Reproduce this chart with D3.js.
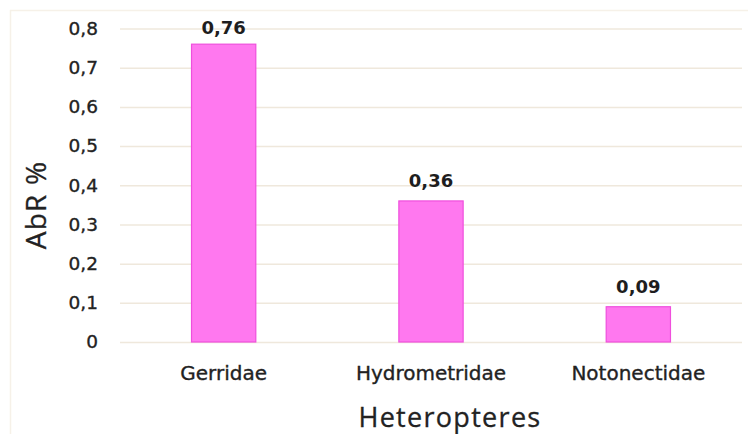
<!DOCTYPE html>
<html>
<head>
<meta charset="utf-8">
<script src="https://cdn.jsdelivr.net/npm/d3@7"></script>
<style>
  body { margin: 0; background: #fff; }
  svg { display: block; }
</style>
</head>
<body>
<div id="dataviz"></div>
<script>
// chart data
var families = ["Gerridae", "Hydrometridae", "Notonectidae"];
var abr = [0.76, 0.36, 0.09];
var yTicks = [0, 0.1, 0.2, 0.3, 0.4, 0.5, 0.6, 0.7, 0.8];

var widthFull = 748;
var heightFull = 434;
var margin = { top: 28.5, right: 6, bottom: 92, left: 120 };
var width = widthFull - margin.left - margin.right;
var height = heightFull - margin.top - margin.bottom;

var root = d3.select("#dataviz").append("svg")
    .attr("width", widthFull)
    .attr("height", heightFull);

// faint chart border (top and left only visible)
root.append("line")
    .attr("x1", 10).attr("y1", 10.5).attr("x2", widthFull).attr("y2", 10.5)
    .attr("stroke", "#f6f1e8").attr("stroke-width", 1.5);
root.append("line")
    .attr("x1", 10.5).attr("y1", 10).attr("x2", 10.5).attr("y2", heightFull)
    .attr("stroke", "#f6f1e8").attr("stroke-width", 1.5);

var svg = root.append("g")
    .attr("transform", "translate(" + margin.left + "," + margin.top + ")");

var x = d3.scaleBand().domain(families).range([0, width])
    .paddingInner(0.69).paddingOuter(0.345);
var y = d3.scaleLinear().domain([0, 0.8]).range([height, 0]);

var fmt = function(d) { return d3.format(".2~f")(d).replace(".", ","); };

// gridlines + y labels
var yAxis = svg.append("g")
    .attr("class", "y-axis")
    .call(d3.axisLeft(y).tickValues(yTicks).tickSize(-width).tickPadding(22)
        .tickFormat(function(d) { return d === 0 ? "0" : fmt(d); }));
yAxis.select(".domain").remove();
yAxis.selectAll(".tick line")
    .attr("stroke", "#efe8dc").attr("stroke-width", 1.5);
yAxis.selectAll(".tick text")
    .attr("fill", "#222")
    .attr("stroke", "#222").attr("stroke-width", 0.35)
    .style("font-family", "DejaVu Sans")
    .style("font-size", "18.5px");

// bars
svg.selectAll("rect.bar")
    .data(families).enter().append("rect")
    .attr("class", "bar")
    .attr("x", function(d) { return x(d); })
    .attr("y", function(d, i) { return y(abr[i]); })
    .attr("width", x.bandwidth())
    .attr("height", function(d, i) { return y(0) - y(abr[i]); })
    .attr("fill", "#ff78ef")
    .attr("stroke", "#ef4fdc")
    .attr("stroke-width", 1.2);

// value labels
svg.selectAll("text.val")
    .data(families).enter().append("text")
    .attr("class", "val")
    .attr("x", function(d) { return x(d) + x.bandwidth() / 2; })
    .attr("y", function(d, i) { return Math.max(y(abr[i]) - 14, 5); })
    .attr("text-anchor", "middle")
    .attr("fill", "#1e1e1e")
    .style("font-family", "DejaVu Sans")
    .style("font-weight", "bold")
    .style("font-size", "18px")
    .text(function(d, i) { return fmt(abr[i]); });

// x labels
var xAxis = svg.append("g")
    .attr("class", "x-axis")
    .attr("transform", "translate(0," + height + ")")
    .call(d3.axisBottom(x).tickSize(0).tickPadding(24));
xAxis.select(".domain").remove();
xAxis.selectAll(".tick text")
    .attr("fill", "#222")
    .attr("stroke", "#222").attr("stroke-width", 0.35)
    .style("font-family", "DejaVu Sans")
    .style("font-size", "20px");

// axis titles
root.append("text")
    .attr("x", 450)
    .attr("y", 427)
    .attr("text-anchor", "middle")
    .attr("fill", "#222")
    .attr("stroke", "#222").attr("stroke-width", 0.3)
    .style("font-family", "Open Sans")
    .style("font-size", "27px")
    .style("letter-spacing", "1.3px")
    .text("Heteropteres");

root.append("text")
    .attr("transform", "translate(46,205) rotate(-90)")
    .attr("text-anchor", "middle")
    .attr("fill", "#222")
    .attr("stroke", "#222").attr("stroke-width", 0.3)
    .style("font-family", "Open Sans")
    .style("font-size", "28px")
    .style("letter-spacing", "1.2px")
    .text("AbR %");
</script>
</body>
</html>
